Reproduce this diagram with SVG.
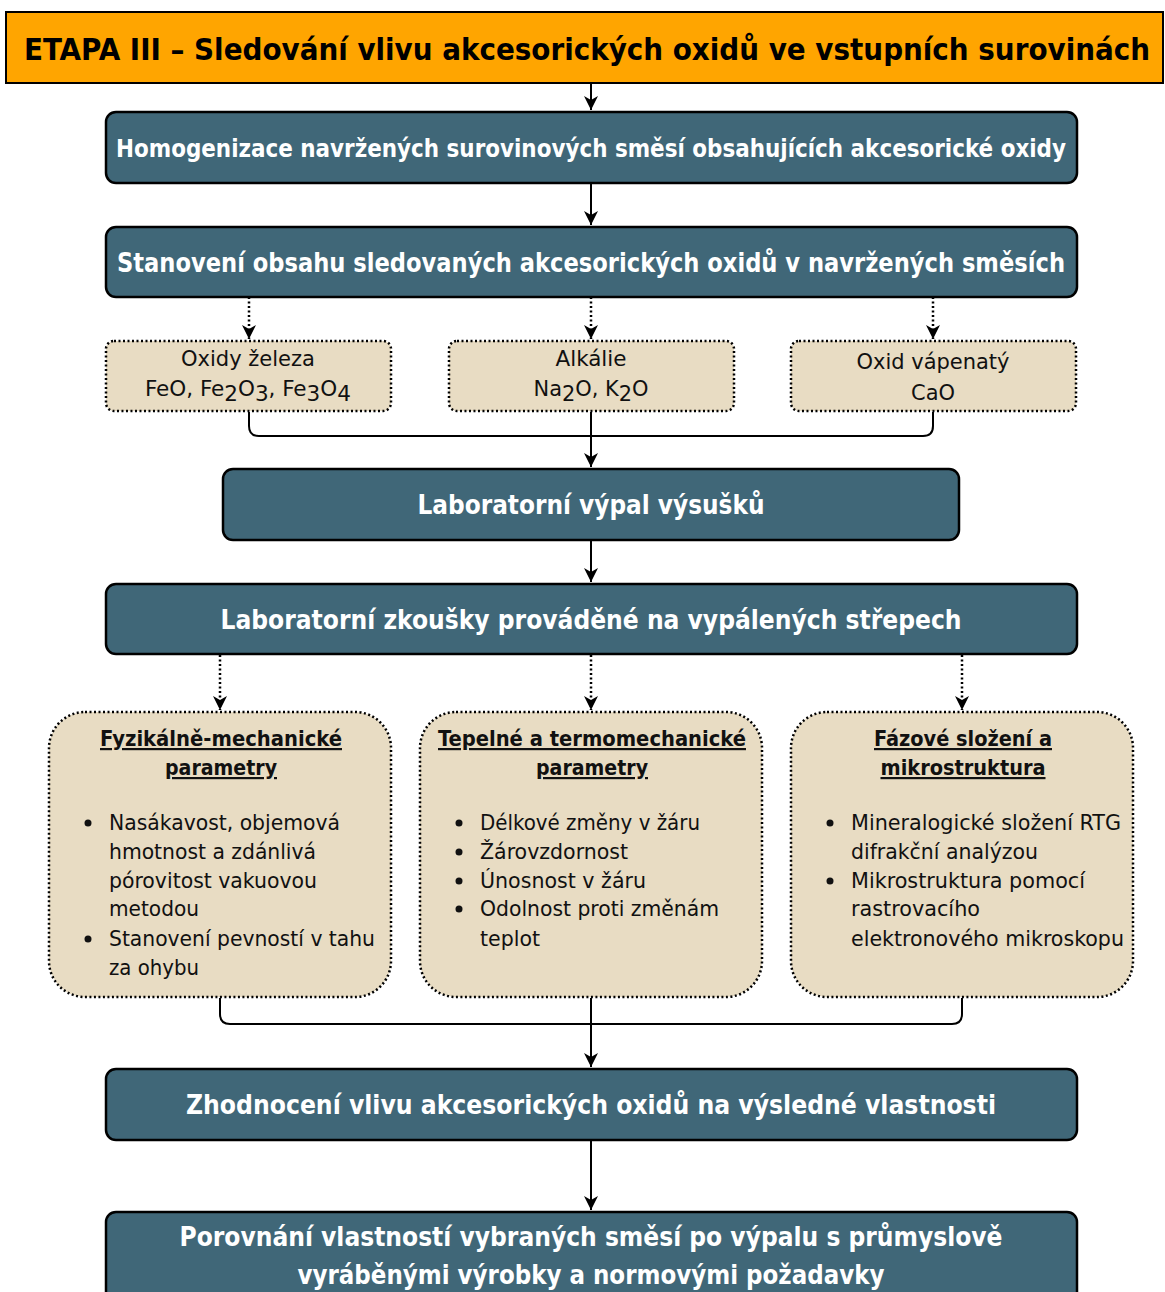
<svg xmlns="http://www.w3.org/2000/svg" width="1165" height="1292" viewBox="0 0 1165 1292">
  <defs>
    <marker id="arrow" markerUnits="userSpaceOnUse" markerWidth="14" markerHeight="14" viewBox="0 0 14 14" refX="14" refY="7" orient="auto">
      <path d="M0,0 L14,7 L0,14 L4,7 Z" fill="#000"/>
    </marker>
    <style>
      text { font-family: "DejaVu Sans Condensed", "Liberation Sans Narrow", "Roboto", sans-serif; }
      .stage { fill: #FFA500; stroke: #000; stroke-width: 2; }
      .stage-t { font-size: 31px; font-weight: bold; fill: #000; }
      .step { fill: #406778; stroke: #000; stroke-width: 2.5; }
      .step-t { font-size: 27px; font-weight: 600; fill: #fff; text-anchor: middle; }
      .step-t.long { font-size: 25px; }
      .item { fill: #E8DCC3; stroke: #000; stroke-width: 2.5; stroke-dasharray: 2 2.5; }
      .item-t { font-size: 21px; fill: #111; text-anchor: middle; }
      .head-t { font-size: 22px; font-weight: bold; fill: #111; text-anchor: middle; text-decoration: underline; }
      .list-t { font-size: 21px; fill: #111; }
      .dot { fill: #111; }
      .flow { fill: none; stroke: #000; stroke-width: 2; }
      .flow-dot { fill: none; stroke: #000; stroke-width: 2.5; stroke-dasharray: 2 2.5; }
    </style>
  </defs>

  <!-- connectors -->
  <g id="connectors">
    <path class="flow" d="M591,83 V110" marker-end="url(#arrow)"/>
    <path class="flow" d="M591,183 V225" marker-end="url(#arrow)"/>
    <path class="flow-dot" d="M249,297 V339" marker-end="url(#arrow)"/>
    <path class="flow-dot" d="M591,297 V339" marker-end="url(#arrow)"/>
    <path class="flow-dot" d="M933,297 V339" marker-end="url(#arrow)"/>
    <path class="flow" d="M249,412 V426 Q249,436 259,436 H923 Q933,436 933,426 V412"/>
    <path class="flow" d="M591,412 V467" marker-end="url(#arrow)"/>
    <path class="flow" d="M591,540 V582" marker-end="url(#arrow)"/>
    <path class="flow-dot" d="M220,655 V710" marker-end="url(#arrow)"/>
    <path class="flow-dot" d="M591,655 V710" marker-end="url(#arrow)"/>
    <path class="flow-dot" d="M962,655 V710" marker-end="url(#arrow)"/>
    <path class="flow" d="M220,998 V1014 Q220,1024 230,1024 H952 Q962,1024 962,1014 V998"/>
    <path class="flow" d="M591,998 V1067" marker-end="url(#arrow)"/>
    <path class="flow" d="M591,1140 V1210" marker-end="url(#arrow)"/>
  </g>

  <!-- stage header -->
  <g id="stage">
    <rect class="stage" x="6" y="12" width="1157" height="71"/>
    <text class="stage-t" x="24" y="60" textLength="1126" lengthAdjust="spacingAndGlyphs">ETAPA III – Sledování vlivu akcesorických oxidů ve vstupních surovinách</text>
  </g>

  <g id="homogenizace">
    <rect class="step" x="106" y="112" width="971" height="71" rx="10"/>
    <text class="step-t long" x="591" y="157" textLength="950" lengthAdjust="spacingAndGlyphs">Homogenizace navržených surovinových směsí obsahujících akcesorické oxidy</text>
  </g>

  <g id="stanoveni">
    <rect class="step" x="106" y="227" width="971" height="70" rx="10"/>
    <text class="step-t" x="591" y="272" textLength="948" lengthAdjust="spacingAndGlyphs">Stanovení obsahu sledovaných akcesorických oxidů v navržených směsích</text>
  </g>

  <g id="oxidy-zeleza">
    <rect class="item" x="106" y="341" width="285" height="70" rx="8"/>
    <text class="item-t" x="248" y="366" textLength="134" lengthAdjust="spacingAndGlyphs">Oxidy železa</text>
    <text class="item-t" x="248" y="396" textLength="206" lengthAdjust="spacingAndGlyphs">FeO, Fe<tspan dy="5">2</tspan><tspan dy="-5">O</tspan><tspan dy="5">3</tspan><tspan dy="-5">, Fe</tspan><tspan dy="5">3</tspan><tspan dy="-5">O</tspan><tspan dy="5">4</tspan></text>
  </g>

  <g id="alkalie">
    <rect class="item" x="449" y="341" width="285" height="70" rx="8"/>
    <text class="item-t" x="591" y="366" textLength="71" lengthAdjust="spacingAndGlyphs">Alkálie</text>
    <text class="item-t" x="591" y="396" textLength="115" lengthAdjust="spacingAndGlyphs">Na<tspan dy="5">2</tspan><tspan dy="-5">O, K</tspan><tspan dy="5">2</tspan><tspan dy="-5">O</tspan></text>
  </g>

  <g id="oxid-vapenaty">
    <rect class="item" x="791" y="341" width="285" height="70" rx="8"/>
    <text class="item-t" x="933" y="369" textLength="153" lengthAdjust="spacingAndGlyphs">Oxid vápenatý</text>
    <text class="item-t" x="933" y="400" textLength="44" lengthAdjust="spacingAndGlyphs">CaO</text>
  </g>

  <g id="vypal">
    <rect class="step" x="223" y="469" width="736" height="71" rx="10"/>
    <text class="step-t" x="591" y="514" textLength="347" lengthAdjust="spacingAndGlyphs">Laboratorní výpal výsušků</text>
  </g>

  <g id="zkousky">
    <rect class="step" x="106" y="584" width="971" height="70" rx="10"/>
    <text class="step-t" x="591" y="629" textLength="741" lengthAdjust="spacingAndGlyphs">Laboratorní zkoušky prováděné na vypálených střepech</text>
  </g>

  <g id="fyzikalne-mechanicke">
    <rect class="item" x="49" y="712" width="342" height="285" rx="36"/>
    <text class="head-t" x="221" y="746" textLength="242" lengthAdjust="spacingAndGlyphs">Fyzikálně-mechanické</text>
    <text class="head-t" x="221" y="775" textLength="112" lengthAdjust="spacingAndGlyphs">parametry</text>
    <circle class="dot" cx="88" cy="823" r="3.5"/>
    <circle class="dot" cx="88" cy="939" r="3.5"/>
    <text class="list-t" x="109" y="830" textLength="231" lengthAdjust="spacingAndGlyphs">Nasákavost, objemová</text>
    <text class="list-t" x="109" y="859" textLength="207" lengthAdjust="spacingAndGlyphs">hmotnost a zdánlivá</text>
    <text class="list-t" x="109" y="888" textLength="208" lengthAdjust="spacingAndGlyphs">pórovitost vakuovou</text>
    <text class="list-t" x="109" y="916" textLength="90" lengthAdjust="spacingAndGlyphs">metodou</text>
    <text class="list-t" x="109" y="946" textLength="266" lengthAdjust="spacingAndGlyphs">Stanovení pevností v tahu</text>
    <text class="list-t" x="109" y="975" textLength="90" lengthAdjust="spacingAndGlyphs">za ohybu</text>
  </g>

  <g id="tepelne-termomechanicke">
    <rect class="item" x="420" y="712" width="342" height="285" rx="36"/>
    <text class="head-t" x="592" y="746" textLength="308" lengthAdjust="spacingAndGlyphs">Tepelné a termomechanické</text>
    <text class="head-t" x="592" y="775" textLength="112" lengthAdjust="spacingAndGlyphs">parametry</text>
    <circle class="dot" cx="459" cy="823" r="3.5"/>
    <circle class="dot" cx="459" cy="852" r="3.5"/>
    <circle class="dot" cx="459" cy="881" r="3.5"/>
    <circle class="dot" cx="459" cy="909" r="3.5"/>
    <text class="list-t" x="480" y="830" textLength="220" lengthAdjust="spacingAndGlyphs">Délkové změny v žáru</text>
    <text class="list-t" x="480" y="859" textLength="148" lengthAdjust="spacingAndGlyphs">Žárovzdornost</text>
    <text class="list-t" x="480" y="888" textLength="166" lengthAdjust="spacingAndGlyphs">Únosnost v žáru</text>
    <text class="list-t" x="480" y="916" textLength="239" lengthAdjust="spacingAndGlyphs">Odolnost proti změnám</text>
    <text class="list-t" x="480" y="946" textLength="60" lengthAdjust="spacingAndGlyphs">teplot</text>
  </g>

  <g id="fazove-slozeni">
    <rect class="item" x="791" y="712" width="342" height="285" rx="36"/>
    <text class="head-t" x="963" y="746" textLength="178" lengthAdjust="spacingAndGlyphs">Fázové složení a</text>
    <text class="head-t" x="963" y="775" textLength="165" lengthAdjust="spacingAndGlyphs">mikrostruktura</text>
    <circle class="dot" cx="830" cy="823" r="3.5"/>
    <circle class="dot" cx="830" cy="881" r="3.5"/>
    <text class="list-t" x="851" y="830" textLength="270" lengthAdjust="spacingAndGlyphs">Mineralogické složení RTG</text>
    <text class="list-t" x="851" y="859" textLength="187" lengthAdjust="spacingAndGlyphs">difrakční analýzou</text>
    <text class="list-t" x="851" y="888" textLength="234" lengthAdjust="spacingAndGlyphs">Mikrostruktura pomocí</text>
    <text class="list-t" x="851" y="916" textLength="129" lengthAdjust="spacingAndGlyphs">rastrovacího</text>
    <text class="list-t" x="851" y="946" textLength="273" lengthAdjust="spacingAndGlyphs">elektronového mikroskopu</text>
  </g>

  <g id="zhodnoceni">
    <rect class="step" x="106" y="1069" width="971" height="71" rx="10"/>
    <text class="step-t" x="591" y="1114" textLength="810" lengthAdjust="spacingAndGlyphs">Zhodnocení vlivu akcesorických oxidů na výsledné vlastnosti</text>
  </g>

  <g id="porovnani">
    <rect class="step" x="106" y="1212" width="971" height="100" rx="10"/>
    <text class="step-t" x="591" y="1246" textLength="823" lengthAdjust="spacingAndGlyphs">Porovnání vlastností vybraných směsí po výpalu s průmyslově</text>
    <text class="step-t" x="591" y="1284" textLength="587" lengthAdjust="spacingAndGlyphs">vyráběnými výrobky a normovými požadavky</text>
  </g>
</svg>
